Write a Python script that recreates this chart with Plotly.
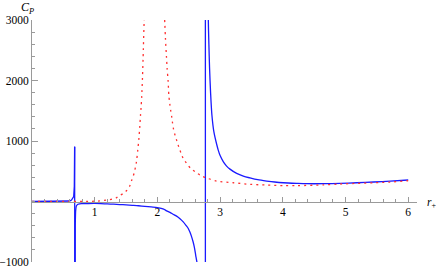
import plotly.graph_objects as go

# ---- data ----
blue1_x = [0.0, 0.2, 0.4, 0.5, 0.55, 0.6, 0.63, 0.65, 0.665, 0.675, 0.680]
blue1_y = [0, 0, 2, 3, 5, 8, 23, 50, 80, 250, 907]

blue2_x = [0.684, 0.690, 0.697, 0.707, 0.72, 0.733, 0.76, 0.8, 0.9, 1.0,
           1.1, 1.2, 1.3, 1.4, 1.5, 1.6, 1.7, 1.8, 1.9, 2.0, 2.1, 2.146,
           2.2, 2.25, 2.306, 2.36, 2.412, 2.46, 2.492, 2.52, 2.546, 2.57,
           2.588, 2.605, 2.615, 2.63, 2.66, 2.765]
blue2_y = [-4000, -400, -143, -75, -55, -45, -38, -36, -33, -32,
           -35, -40, -44, -50, -56, -63, -70, -80, -90, -100, -125, -154,
           -180, -210, -242, -285, -337, -400, -446, -510, -585, -670,
           -751, -850, -917, -1000, -1500, -10000]

blue3_x = [2.765, 2.812, 2.821, 2.832, 2.848, 2.869, 2.901, 2.944, 2.97,
           3.0, 3.05, 3.1, 3.157, 3.264, 3.37, 3.476, 3.6, 3.743, 3.87,
           4.008, 4.22, 4.38, 4.647, 4.914, 5.18, 5.45, 5.715, 6.0]
blue3_y = [10000, 3000, 2600, 2200, 1800, 1430, 1150, 950, 850,
           760, 660, 590, 535, 465, 420, 390, 360, 338, 322,
           310, 300, 294, 294, 300, 310, 322, 338, 355]

red1_x = [0.0, 0.3, 0.6, 0.8, 0.9, 1.0, 1.08, 1.187, 1.283, 1.35, 1.399,
          1.45, 1.506, 1.559, 1.591, 1.628, 1.666, 1.687, 1.703, 1.719,
          1.73, 1.739, 1.75, 1.762, 1.772, 1.788, 1.80]
red1_y = [0, 0, 0, 1, 2, 5, 10, 23, 40, 65, 95,
          130, 177, 255, 355, 466, 658, 852, 1018, 1239,
          1420, 1549, 1736, 2050, 2378, 2963, 3300]
red2_x = [2.11, 2.118, 2.128, 2.144, 2.155, 2.171, 2.182, 2.198, 2.214,
          2.23, 2.241, 2.257, 2.283, 2.31, 2.342, 2.374, 2.41, 2.465,
          2.529, 2.608, 2.688, 2.773, 2.944, 3.21, 3.476, 3.743, 4.008,
          4.22, 4.647, 4.914, 5.18, 5.45, 5.715, 5.98, 6.0]
red2_y = [3100, 2950, 2700, 2400, 2200, 1985, 1760, 1610, 1490,
          1390, 1300, 1196, 1090, 1002, 897, 808, 715, 632,
          549, 487, 433, 393, 338, 310, 284, 272, 262,
          262, 275, 289, 300, 310, 322, 343, 347]

x_major = [1, 2, 3, 4, 5, 6]
x_minor_step = 0.2
y_major = [-1000, 1000, 2000, 3000]
y_major_text = ["\u22121000", "1000", "2000", "3000"]
y_minor_step = 200

AXIS = "#9a9a9a"
FONT = "Liberation Serif"
TXT = "#000000"
BLUE = dict(color="#1a1aff", width=1.3)
RED = dict(color="#ff3030", width=1.3, dash="2px,4px")

fig = go.Figure()
blue_branches = [(blue1_x, blue1_y), (blue2_x, blue2_y), (blue3_x, blue3_y)]
for (ax, ay), (bx, by) in zip(blue_branches[:-1], blue_branches[1:]):
    fig.add_trace(go.Scatter(x=[ax[-1], bx[0]], y=[ay[-1], by[0]],
                             mode="lines", line=BLUE, hoverinfo="skip"))
for i, (bx, by) in enumerate(blue_branches):
    fig.add_trace(go.Scatter(x=bx, y=by, mode="lines",
                             line=dict(BLUE, shape="linear" if i == 0 else "spline",
                                       smoothing=0.8),
                             hoverinfo="skip"))
for rx, ry in [(red1_x, red1_y), (red2_x, red2_y)]:
    fig.add_trace(go.Scatter(x=rx, y=ry, mode="lines",
                             line=dict(RED, shape="spline", smoothing=0.8),
                             hoverinfo="skip"))

xr = [0, 6.14]
yr = [-1000, 3000]
x_minor = [round(k * x_minor_step, 3) for k in range(1, int(6 / x_minor_step) + 1)]
y_minor = [k * y_minor_step for k in range(int(yr[0] / y_minor_step), int(yr[1] / y_minor_step) + 1)]

tick_common = dict(ticks="inside", tickcolor=AXIS, tickwidth=1,
                   showgrid=False, zeroline=False, automargin=False,
                   tickfont=dict(family=FONT, size=11.5, color=TXT))

fig.update_layout(
    width=436, height=269,
    margin=dict(l=32, r=19, t=20, b=7),
    paper_bgcolor="white", plot_bgcolor="white",
    showlegend=False,
    font=dict(family=FONT, size=11.5, color=TXT),
    xaxis=dict(range=xr, anchor="free", position=0.25,
               tickmode="array", tickvals=x_minor,
               ticktext=[str(int(v)) if v in x_major else "" for v in x_minor],
               ticklen=2.5, showline=True, linecolor=AXIS, linewidth=1,
               **tick_common),
    yaxis=dict(range=yr, tickmode="array", tickvals=y_minor,
               ticktext=[y_major_text[y_major.index(v)] if v in y_major else ""
                         for v in y_minor],
               ticklen=2.5, showline=True, linecolor=AXIS, linewidth=1,
               **tick_common),
    xaxis2=dict(range=xr, overlaying="x", anchor="free", position=0.25,
                tickmode="array", tickvals=x_major, ticktext=["" for _ in x_major],
                ticklen=4.5, showline=False, **tick_common),
    yaxis2=dict(range=yr, overlaying="y", anchor="free", position=0,
                tickmode="array", tickvals=y_major, ticktext=["" for _ in y_major],
                ticklen=4.5, showline=False, **tick_common),
    annotations=[
        dict(text="<i>C</i><sub><i>P</i></sub>", xref="paper", yref="paper",
             x=0, y=1, xshift=-5, yshift=12, showarrow=False,
             xanchor="center", yanchor="middle",
             font=dict(family=FONT, size=12, color=TXT)),
        dict(text="<i>r</i><sub>+</sub>", xref="paper", yref="paper",
             x=1, y=0.25, xshift=8, yshift=-1, showarrow=False,
             xanchor="left", yanchor="middle",
             font=dict(family=FONT, size=11.5, color=TXT)),
    ],
)
fig.add_trace(go.Scatter(x=[None], y=[None], xaxis="x2", yaxis="y2",
                         mode="lines", hoverinfo="skip"))

# remove the browser's default 8px body margin so the figure sits at (0, 0)
fig.write_html("out.html",
               config={"displayModeBar": False, "staticPlot": True},
               post_script="document.body.style.margin='0';"
                           "document.body.style.overflow='hidden';")
